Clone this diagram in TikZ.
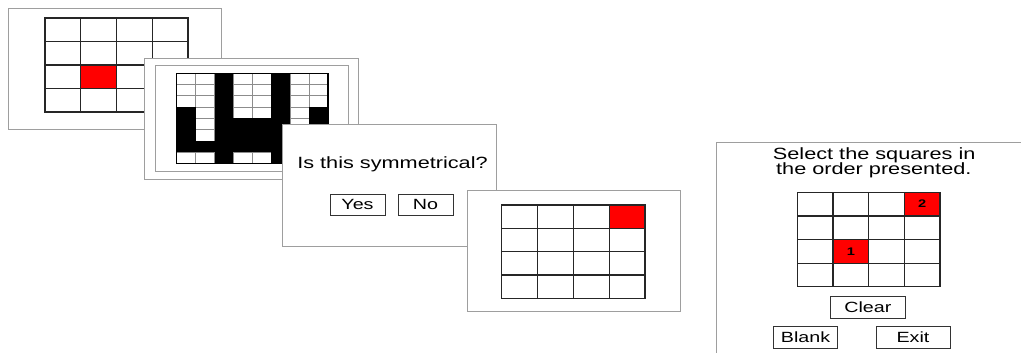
\documentclass[tikz,border=0pt]{standalone}
\usepackage{fontspec}
\setmainfont{Liberation Sans}
\newfontfamily\widesans[FakeStretch=1.33]{Liberation Sans}
\begin{document}
\begin{tikzpicture}[x=1pt,y=-1pt,
  screen/.style={draw=black!38,line width=0.9pt,fill=white},
  cellbox/.style={draw=black!85,line width=1.2pt,fill=white},
  redcell/.style={draw=black!85,line width=1.2pt,fill=red},
  thincell/.style={draw=black!45,line width=0.8pt,fill=white},
  btn/.style={draw=black!80,line width=1pt,fill=white,inner sep=0pt,
    font=\widesans\fontsize{14.8}{16}\selectfont},
  prompt/.style={font=\widesans\fontsize{16.3}{19}\selectfont,inner sep=0pt},
  num/.style={font=\widesans\bfseries\fontsize{11}{12}\selectfont,inner sep=0pt}]
\useasboundingbox (0,0) rectangle (1021,353);

% screen 1: location memory grid with one highlighted square
\draw[screen] (8,8) rectangle (221.7,129);
\foreach \c in {0,...,3}
  \foreach \r in {0,...,3}
    \draw[cellbox] ({45+\c*35.75},{18+\r*23.5}) rectangle ++(35.75,23.5);
\draw[redcell] ({45+1*35.75},{18+2*23.5}) rectangle ++(35.75,23.5);

% screen 2: symmetry judgement pattern
\draw[screen] (144.5,58.3) rectangle (358,179.5);
\draw[screen] (155,65.5) rectangle (348,171.7);
\foreach \c in {0,...,7}
  \foreach \r in {0,...,7}
    \draw[thincell] ({176.7+\c*18.91},{73.3+\r*11.3}) rectangle ++(18.91,11.3);
\foreach \c/\r in {0/3,0/4,0/5,0/6,1/6,
                   2/0,2/1,2/2,2/3,2/4,2/5,2/6,2/7,
                   3/4,3/5,3/6,4/4,4/5,4/6,
                   5/0,5/1,5/2,5/3,5/4,5/5,5/6,5/7,
                   6/6,7/3,7/4,7/5,7/6}
  \fill[black] ({176.7+\c*18.91},{73.3+\r*11.3}) rectangle ++(18.91,11.3);
\draw[black,line width=1.1pt] (176.7,73.3) rectangle (328,163.7);

% screen 3: symmetry question
\draw[screen] (282.3,124.3) rectangle (496,246);
\node[prompt,anchor=base] (question) at (392.5,168.3) {Is this symmetrical?};
\node[btn,minimum width=55pt,minimum height=21pt] (yes) at (357.5,204.5) {Yes};
\node[btn,minimum width=55pt,minimum height=21pt] (no) at (425.5,204.5) {No};

% screen 4: next square in the sequence
\draw[screen] (467,190) rectangle (680.7,311);
\foreach \c in {0,...,3}
  \foreach \r in {0,...,3}
    \draw[cellbox] ({501.7+\c*35.83},{205+\r*23.33}) rectangle ++(35.83,23.33);
\draw[redcell] ({501.7+3*35.83},205) rectangle ++(35.83,23.33);

% screen 5: recall of the square order
\draw[screen] (716.7,142.3) -- (1030,142.3);
\draw[screen] (716.7,142.3) -- (716.7,360);
\node[prompt,anchor=base] (line1) at (874.2,159) {Select the squares in};
\node[prompt,anchor=base] (line2) at (873.8,174.3) {the order presented.};
\foreach \c in {0,...,3}
  \foreach \r in {0,...,3}
    \draw[cellbox] ({797.3+\c*35.68},{192.3+\r*23.6}) rectangle ++(35.68,23.6);
\draw[redcell] ({797.3+3*35.68},192.3) rectangle ++(35.68,23.6);
\draw[redcell] ({797.3+1*35.68},{192.3+2*23.6}) rectangle ++(35.68,23.6);
\node[num] (sel2) at ({797.3+3.5*35.68},{192.3+0.5*23.6}) {2};
\node[num] (sel1) at ({797.3+1.5*35.68},{192.3+2.5*23.6}) {1};
\node[btn,minimum width=74.3pt,minimum height=21.6pt] (clear) at (867.9,307.5) {Clear};
\node[btn,minimum width=64.4pt,minimum height=21.6pt] (blank) at (805.5,337.5) {Blank};
\node[btn,minimum width=74pt,minimum height=21.6pt] (exit) at (913,337.5) {Exit};
\end{tikzpicture}
\end{document}
